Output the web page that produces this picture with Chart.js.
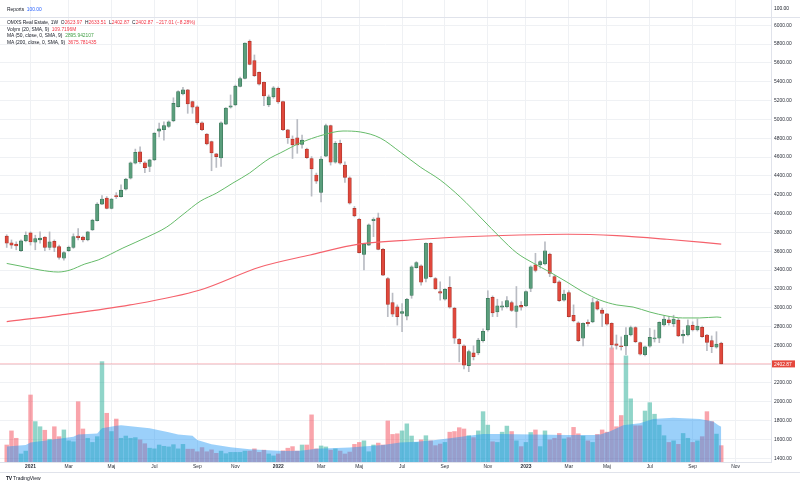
<!DOCTYPE html>
<html>
<head>
<meta charset="utf-8">
<script src="https://cdn.jsdelivr.net/npm/chart.js@4.4.1/dist/chart.umd.min.js"></script>
<style>
  html, body { margin: 0; padding: 0; background: #fff; }
  #wrap { position: relative; width: 800px; height: 486px; font-family: "Liberation Sans", Arial, sans-serif; }
  canvas { position: absolute; left: 0; top: 0; }
  .lg { position: absolute; left: 7px; font-size: 4.9px; line-height: 6px; color: #131722; white-space: pre; }
  .red { color: #f23645; }
  .green { color: #43a047; }
  .blue { color: #2962ff; }
  #logo { position: absolute; left: 6px; top: 475px; font-size: 5px; line-height: 6px; color: #131722; white-space: pre; }
  #logo b { font-weight: 900; letter-spacing: -0.3px; }
</style>
</head>
<body>
<div id="wrap">
  <canvas id="chart" width="800" height="486"></canvas>
  <div class="lg" style="top:7px">Reports  <span class="blue">100.00</span></div>
  <div class="lg" style="top:20px">OMXS Real Estate, 1W  O<span class="red">2623.97</span>  H<span class="red">2633.51</span>  L<span class="red">2402.87</span>  C<span class="red">2402.87</span>  <span class="red">−217.01 (−8.28%)</span></div>
  <div class="lg" style="top:26.5px">Volym (20, SMA, 9)  <span class="red">109.7196M</span></div>
  <div class="lg" style="top:33px">MA (50, close, 0, SMA, 9)  <span class="green">2895.942107</span></div>
  <div class="lg" style="top:39.5px">MA (200, close, 0, SMA, 9)  <span class="red">3675.781435</span></div>
  <div id="logo"><b>TV</b> TradingView</div>
</div>
<script>
// weekly candles, first bar = week of 30 Nov 2020, last = week of 16 Oct 2023
const opens = [
  3760, 3690, 3675, 3605, 3710, 3795, 3695, 3720, 3750, 3640,
  3705, 3650, 3525, 3605, 3640, 3760, 3750, 3720, 3825, 3925,
  4100, 4165, 4055, 4190, 4180, 4260, 4375, 4535, 4655, 4540,
  4500, 4570, 4875, 4890, 4925, 4985, 5135, 5270, 5315, 5190,
  5135, 4965, 4845, 4765, 4635, 4590, 4950, 5130, 5155, 5350,
  5435, 5830, 5625, 5500, 5395, 5155, 5240, 5330, 5190, 4890,
  4790, 4805, 4735, 4685, 4585, 4410, 4225, 4610, 4935, 4545,
  4745, 4515, 4380, 4055, 3940, 3565, 3665, 3925, 3955, 3620,
  3310, 3055, 3010, 2940, 2910, 3130, 3425, 3445, 3310, 3685,
  3310, 3170, 3090, 3215, 2995, 2665, 2595, 2385, 2520, 2520,
  2650, 2765, 3110, 2955, 3005, 3010, 3055, 2960, 3025, 3020,
  3205, 3455, 3455, 3465, 3570, 3330, 3275, 3080, 3160, 2920,
  2840, 2675, 2845, 2850, 3065, 2975, 2935, 2835, 2615, 2595,
  2595, 2710, 2790, 2630, 2500, 2590, 2667, 2675, 2816, 2870,
  2827, 2869, 2700, 2710, 2813, 2763, 2792, 2710, 2650, 2580,
  2623.97
];
const highs = [
  3775, 3720, 3700, 3720, 3805, 3805, 3770, 3805, 3755, 3805,
  3720, 3665, 3595, 3655, 3785, 3840, 3760, 3810, 3940, 4115,
  4190, 4180, 4162, 4222, 4304, 4375, 4548, 4685, 4710, 4551,
  4577, 4860, 4960, 4975, 4985, 5230, 5305, 5340, 5320, 5195,
  5145, 4975, 4850, 4770, 4640, 4975, 5125, 5260, 5365, 5450,
  5815, 5845, 5685, 5505, 5400, 5260, 5350, 5345, 5195, 4895,
  4825, 5000, 4835, 4695, 4605, 4430, 4605, 4950, 4940, 4765,
  4780, 4550, 4390, 4075, 3950, 3685, 3890, 3955, 4005, 3630,
  3320, 3155, 3030, 3045, 3100, 3445, 3490, 3455, 3690, 3690,
  3320, 3275, 3205, 3330, 3005, 2675, 2605, 2550, 2595, 2675,
  2775, 3180, 3125, 3090, 3065, 3117, 3070, 3225, 3065, 3180,
  3445, 3578, 3500, 3700, 3580, 3347, 3287, 3188, 3180, 3030,
  2850, 2840, 2870, 3100, 3080, 2995, 2940, 2840, 2710, 2690,
  2790, 2805, 2798, 2635, 2593, 2780, 2763, 2850, 2915, 2905,
  2920, 2887, 2763, 2870, 2850, 2880, 2805, 2717, 2700, 2745,
  2633.51
];
const lows = [
  3640, 3630, 3615, 3595, 3700, 3665, 3615, 3685, 3605, 3615,
  3595, 3515, 3505, 3595, 3630, 3720, 3700, 3710, 3820, 3920,
  4095, 4050, 4050, 4160, 4173, 4250, 4367, 4527, 4534, 4434,
  4445, 4562, 4815, 4780, 4915, 4975, 5130, 5260, 5065, 5065,
  4950, 4880, 4730, 4455, 4490, 4500, 4945, 5120, 5145, 5345,
  5430, 5580, 5455, 5365, 5145, 5135, 5225, 5170, 4880, 4745,
  4585, 4640, 4695, 4585, 4185, 4320, 4125, 4605, 4515, 4535,
  4525, 4330, 4100, 3965, 3580, 3400, 3660, 3755, 3615, 3340,
  2905, 2905, 2815, 2745, 2870, 3100, 3420, 3240, 3275, 3323,
  3195, 3080, 3080, 2995, 2620, 2425, 2350, 2320, 2445, 2500,
  2635, 2750, 2905, 2905, 2975, 2997, 2960, 2790, 2975, 3010,
  3170, 3380, 3420, 3455, 3330, 3260, 3065, 3070, 2900, 2850,
  2640, 2595, 2805, 2840, 2975, 2798, 2815, 2560, 2560, 2550,
  2500, 2700, 2628, 2497, 2487, 2580, 2635, 2628, 2805, 2815,
  2798, 2692, 2622, 2700, 2752, 2752, 2685, 2543, 2522, 2570,
  2402.87
];
const closes = [
  3685, 3665, 3655, 3710, 3770, 3700, 3735, 3740, 3640, 3700,
  3640, 3535, 3585, 3640, 3755, 3745, 3720, 3805, 3930, 4100,
  4155, 4055, 4155, 4180, 4250, 4365, 4540, 4650, 4550, 4487,
  4570, 4855, 4900, 4935, 4975, 5170, 5295, 5315, 5165, 5130,
  4965, 4890, 4740, 4645, 4605, 4965, 5120, 5145, 5355, 5435,
  5810, 5585, 5465, 5375, 5250, 5240, 5335, 5185, 4890, 4805,
  4730, 4730, 4780, 4595, 4475, 4345, 4580, 4935, 4545, 4745,
  4535, 4385, 4110, 3975, 3585, 3675, 3880, 3940, 3620, 3345,
  3035, 2930, 2905, 2960, 3090, 3435, 3480, 3270, 3685, 3330,
  3200, 3155, 3195, 3005, 2675, 2615, 2390, 2535, 2480, 2655,
  2750, 3100, 2945, 3020, 3020, 3075, 2970, 3020, 3005, 3170,
  3435, 3395, 3490, 3605, 3365, 3265, 3075, 3145, 2905, 2860,
  2650, 2835, 2830, 3055, 2985, 2940, 2825, 2605, 2600, 2585,
  2710, 2790, 2640, 2505, 2585, 2685, 2680, 2845, 2880, 2840,
  2880, 2700, 2717, 2810, 2763, 2805, 2692, 2632, 2586, 2614,
  2402.87
];
// volume, millions
const volumes = [
  53, 97, 74, 25, 34, 209, 126, 110, 99, 71,
  110, 79, 100, 66, 63, 188, 103, 74, 61, 79,
  313, 152, 95, 134, 74, 81, 74, 76, 69, 57,
  43, 41, 53, 49, 47, 54, 41, 55, 40, 40,
  32, 45, 32, 38, 27, 34, 26, 30, 30, 30,
  34, 34, 41, 30, 37, 25, 19, 25, 35, 43,
  48, 34, 53, 53, 147, 41, 50, 47, 37, 41,
  34, 25, 31, 55, 61, 66, 32, 53, 59, 53,
  128, 86, 88, 97, 119, 81, 61, 69, 82, 66,
  51, 56, 61, 93, 95, 107, 103, 82, 76, 97,
  157, 115, 63, 61, 93, 112, 95, 66, 48, 61,
  92, 100, 48, 97, 69, 74, 89, 72, 76, 108,
  88, 81, 66, 61, 86, 100, 93, 356, 110, 145,
  331, 197, 113, 113, 159, 185, 149, 115, 82, 61,
  66, 55, 89, 74, 61, 66, 79, 157, 126, 87,
  51
];

// moving averages at sample weeks
const ma50Week = [0, 2.8, 7, 10.8, 13.3, 16.4, 19.2, 24.4, 29.5, 33.6, 37, 40.6, 44.1, 47.5, 51, 53.2, 55.3, 57.4,
  61.6, 66.4, 70.6, 74.2, 78.4, 82.6, 86.8, 91, 95.2, 100, 103.5, 107.1, 110.5, 114, 117.6, 121, 124.5,
  128.1, 131.5, 135, 138.6, 141.9, 145.5, 149.1, 150];
const ma50 = [3470, 3443, 3400, 3379, 3400, 3464, 3507, 3634, 3751, 3857, 3990, 4130, 4219, 4325, 4431, 4516, 4590, 4643,
  4750, 4835, 4877, 4867, 4803, 4654, 4495, 4357, 4176, 3932, 3751, 3581, 3475, 3379, 3273, 3167, 3082,
  3029, 3007, 2954, 2912, 2891, 2891, 2901, 2896];
const ma200Week = [0, 11.2, 25.9, 40.6, 53.2, 63.7, 74.2, 84.7, 95.2, 107.7, 117.6, 128.1, 138.6, 150];
const ma200 = [2853, 2922, 3029, 3188, 3432, 3560, 3677, 3719, 3751, 3772, 3780, 3765, 3727, 3676];
const volMaWeek = [0, 4, 5, 9, 14, 15, 19, 20, 23, 24, 27, 30, 34, 36, 39, 40, 43, 47, 51, 58, 61.6, 65, 72,
  79, 82.6, 86, 89.6, 93, 96.6, 100, 103.5, 110.6, 117.5, 123.2, 124.6, 126.6, 129.4, 132.9, 135.7, 139.9,
  145.5, 148.3, 149.4, 150];
const volMa = [48, 53, 61, 69, 79, 86, 89, 105, 113, 115, 110, 105, 93, 86, 82, 69, 55, 46, 40, 34, 35, 41, 45,
  53, 61, 63, 68, 74, 81, 87, 87, 86, 84, 84, 86, 95, 115, 121, 134, 138,
  134, 126, 115, 110];

// time axis: first weekly bar of each labelled month
const monthWeek = [5, 13, 22, 31, 40, 48, 57, 66, 74, 83, 92, 101, 109, 118, 126, 135, 144, 153];
const monthLabel = ['2021', 'Mar', 'Maj', 'Jul', 'Sep', 'Nov', '2022', 'Mar', 'Maj', 'Jul', 'Sep', 'Nov',
  '2023', 'Mar', 'Maj', 'Jul', 'Sep', 'Nov'];
const priceTicks = [1400, 1600, 1800, 2000, 2200, 2400, 2600, 2800, 3000, 3200, 3400, 3600, 3800,
  4000, 4200, 4400, 4600, 4800, 5000, 5200, 5400, 5600, 5800, 6000];

const upBody = '#5a9e7c', upEdge = '#3b7659';
const downBody = '#e0483c', downEdge = '#a9362c';
const wickCol = '#b9bcc3';
const gridCol = '#eff1f4';
const fontFamily = '"Liberation Sans", Arial, sans-serif';

const weeks = opens.map((_, i) => i);
const isUp = weeks.map(i => closes[i] >= opens[i]);
const pts = (xs, ys) => xs.map((x, k) => ({ x: x, y: ys[k] }));
const lastClose = closes[closes.length - 1];

const overlay = {
    id: 'overlay',
    afterDraw(chart) {
        const { ctx, chartArea: a, scales } = chart;
        ctx.save();
        ctx.strokeStyle = '#e0e3eb';
        ctx.lineWidth = 1;
        // Reports pane separator and bottom edge of the time axis
        ctx.beginPath();
        ctx.moveTo(0, 17.5); ctx.lineTo(800, 17.5);
        ctx.moveTo(0, 472.5); ctx.lineTo(800, 472.5);
        ctx.stroke();
        ctx.font = '4.9px ' + fontFamily;
        ctx.textBaseline = 'middle';
        ctx.fillStyle = '#131722';
        ctx.fillText('100.00', a.right + 3, 9);
        // last price tag
        const y = scales.y.getPixelForValue(lastClose);
        ctx.fillStyle = '#e5483d';
        ctx.fillRect(a.right + 1, y - 3.5, 23, 7);
        ctx.fillStyle = '#fff';
        ctx.fillText(lastClose.toFixed(2), a.right + 3, y + 0.3);
        ctx.restore();
    }
};

new Chart(document.getElementById('chart').getContext('2d'), {
    type: 'bar',
    data: {
        datasets: [
            {
                type: 'line',
                data: pts(ma50Week, ma50),
                borderColor: '#66bb6a',
                borderWidth: 1,
                pointRadius: 0,
                cubicInterpolationMode: 'monotone',
                yAxisID: 'y',
                order: 0,
            },
            {
                type: 'line',
                data: pts(ma200Week, ma200),
                borderColor: '#f5626c',
                borderWidth: 1.2,
                pointRadius: 0,
                cubicInterpolationMode: 'monotone',
                yAxisID: 'y',
                order: 0,
            },
            {
                type: 'line',
                data: [{ x: -2, y: lastClose }, { x: 162, y: lastClose }],
                borderColor: 'rgba(242,54,69,0.35)',
                borderWidth: 1,
                pointRadius: 0,
                yAxisID: 'y',
                order: 3,
            },
            {
                // candle bodies
                data: weeks.map(i => ({ x: i, y: [opens[i], closes[i]] })),
                backgroundColor: weeks.map(i => isUp[i] ? upBody : downBody),
                borderColor: weeks.map(i => isUp[i] ? upEdge : downEdge),
                borderWidth: 0.7,
                borderSkipped: false,
                barThickness: 3.4,
                minBarLength: 1,
                grouped: false,
                yAxisID: 'y',
                order: 1,
            },
            {
                // wicks
                data: weeks.map(i => ({ x: i, y: [lows[i], highs[i]] })),
                backgroundColor: wickCol,
                barThickness: 1,
                grouped: false,
                yAxisID: 'y',
                order: 2,
            },
            {
                type: 'line',
                data: pts(volMaWeek, volMa),
                borderWidth: 0,
                pointRadius: 0,
                fill: 'origin',
                backgroundColor: 'rgba(33,150,243,0.45)',
                yAxisID: 'yv',
                order: 4,
            },
            {
                data: weeks.map(i => ({ x: i, y: volumes[i] })),
                backgroundColor: weeks.map(i => isUp[i] ? 'rgba(34,171,148,0.5)' : 'rgba(242,54,69,0.45)'),
                barThickness: 3.8,
                grouped: false,
                yAxisID: 'yv',
                order: 5,
            }
        ]
    },
    options: {
        responsive: false,
        animation: false,
        events: [],
        layout: { padding: { left: 0, right: 0, top: 0, bottom: 14 } },
        plugins: { legend: { display: false }, tooltip: { enabled: false } },
        scales: {
            x: {
                type: 'linear',
                min: -1.41,
                max: 160.45,
                offset: false,
                grid: { color: gridCol, drawTicks: false, offset: false },
                border: { display: true, color: '#e0e3eb' },
                afterBuildTicks: s => { s.ticks = monthWeek.map(v => ({ value: v })); },
                afterFit: s => { s.height = 10; s.paddingLeft = 0; s.paddingRight = 0; },
                ticks: {
                    autoSkip: false,
                    maxRotation: 0,
                    padding: 2,
                    color: '#2a2e39',
                    font: ctx => ({ family: fontFamily, size: 4.9,
                        weight: /^\d+$/.test(monthLabel[ctx.index] || '') ? 'bold' : 'normal' }),
                    callback: v => monthLabel[monthWeek.indexOf(v)]
                }
            },
            y: {
                position: 'right',
                min: 1360.7,
                max: 6268.8,
                grid: { color: gridCol, drawTicks: false },
                border: { display: true, color: '#e0e3eb' },
                afterBuildTicks: s => { s.ticks = priceTicks.map(v => ({ value: v })); },
                afterFit: s => { s.width = 29; s.paddingTop = 0; s.paddingBottom = 0; },
                ticks: {
                    padding: 3,
                    color: '#2a2e39',
                    font: { family: fontFamily, size: 4.9 },
                    callback: v => v.toFixed(2)
                }
            },
            yv: {
                display: false,
                min: 0,
                max: 1441
            }
        }
    },
    plugins: [overlay]
});
</script>
</body>
</html>
